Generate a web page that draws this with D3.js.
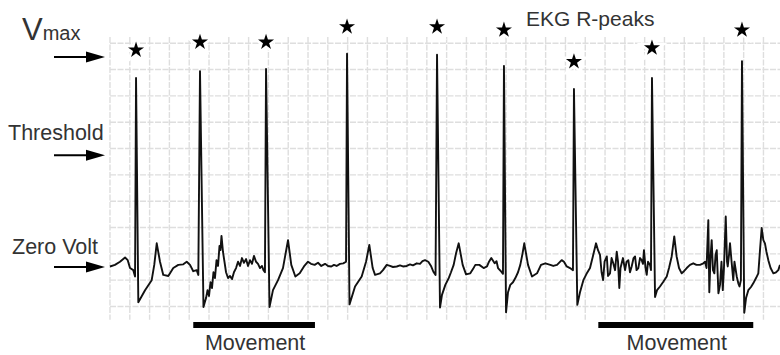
<!DOCTYPE html>
<html>
<head>
<meta charset="utf-8">
<script src="https://cdn.jsdelivr.net/npm/d3@7"></script>
<style>
  html, body { margin: 0; padding: 0; background: #fff; }
  svg { display: block; }
  text { font-family: "Liberation Sans", Arial, Helvetica, sans-serif; }
</style>
</head>
<body>
<svg id="chart" width="780" height="355"></svg>
<script>
// EKG recording: time in ms, voltage in mV (one grid box = 200 ms x 0.5 mV)
const traceTime = [
  0, 50, 101, 152, 179, 202, 235, 253, 263, 286, 354, 421, 447, 472, 505, 538, 589, 639, 690, 740,
  775, 808, 841, 876, 892, 909, 944, 970, 985, 1000, 1015, 1030, 1045, 1060, 1076, 1091, 1106, 1116, 1126, 1141,
  1156, 1172, 1192, 1212, 1232, 1252, 1273, 1293, 1313, 1333, 1353, 1374, 1394, 1414, 1434, 1454, 1475, 1495, 1515, 1535,
  1550, 1565, 1576, 1611, 1646, 1697, 1747, 1798, 1831, 1872, 1916, 1959, 2000, 2030, 2067, 2101, 2134, 2172, 2202, 2235,
  2262, 2289, 2323, 2356, 2384, 2394, 2419, 2475, 2542, 2586, 2619, 2653, 2677, 2727, 2757, 2795, 2828, 2858, 2896, 2929,
  2959, 2997, 3030, 3060, 3098, 3131, 3156, 3182, 3215, 3242, 3266, 3288, 3303, 3333, 3353, 3387, 3421, 3444, 3471, 3494,
  3522, 3562, 3596, 3639, 3666, 3690, 3730, 3774, 3808, 3828, 3851, 3885, 3904, 3919, 3952, 3969, 3979, 4000, 4020, 4043,
  4070, 4094, 4121, 4144, 4166, 4184, 4222, 4262, 4313, 4353, 4397, 4447, 4477, 4515, 4562, 4585, 4613, 4646, 4676, 4686,
  4720, 4747, 4781, 4813, 4848, 4878, 4909, 4929, 4949, 4965, 4980, 4995, 5018, 5030, 5050, 5066, 5083, 5101, 5118, 5131,
  5144, 5156, 5168, 5181, 5202, 5217, 5235, 5252, 5269, 5288, 5303, 5318, 5336, 5353, 5370, 5383, 5393, 5409, 5421, 5434,
  5454, 5464, 5474, 5505, 5525, 5555, 5585, 5623, 5646, 5673, 5699, 5723, 5747, 5774, 5797, 5825, 5858, 5891, 5923, 5959,
  5993, 6010, 6025, 6043, 6053, 6065, 6077, 6090, 6104, 6116, 6128, 6145, 6161, 6176, 6189, 6201, 6219, 6232, 6239, 6252,
  6262, 6278, 6295, 6307, 6330, 6346, 6358, 6372, 6383, 6406, 6424, 6447, 6474, 6497, 6525, 6548, 6565, 6582, 6599, 6615,
  6630, 6649, 6672, 6700, 6727, 6750, 6767
];
const traceVolt = [
  0.01, 0.04, 0.10, 0.18, 0.13, -0.02, -0.06, -0.18, 3.59, -0.67, -0.44, -0.25, 0.04, 0.45, 0.10, -0.15, -0.17, -0.02, 0.04, 0.05,
  0.10, 0.04, -0.08, -0.06, -0.15, 3.72, -0.76, -0.59, -0.44, -0.55, -0.29, -0.40, -0.10, -0.21, 0.13, 0.02, 0.40, 0.32, 0.59, 0.29,
  0.10, -0.10, -0.21, -0.17, -0.23, -0.10, -0.02, 0.10, 0.02, 0.17, 0.08, 0.15, 0.02, 0.13, 0.06, 0.21, 0.10, 0.06, -0.02, 0.02,
  -0.06, -0.10, 3.76, -0.76, -0.44, -0.25, -0.02, 0.51, 0.04, -0.18, -0.12, 0.01, 0.10, 0.06, 0.04, 0.08, 0.02, 0.06, 0.02, 0.01,
  0.04, 0.02, 0.06, 0.07, 0.10, 4.05, -0.71, -0.37, -0.18, 0.10, 0.42, -0.02, -0.15, -0.12, -0.06, 0.04, 0.02, 0.00, 0.01, 0.03,
  0.01, 0.02, 0.05, 0.03, 0.07, 0.06, 0.11, 0.13, 0.10, 0.02, -0.09, -0.15, 4.03, -0.77, -0.53, -0.34, -0.21, -0.10, 0.04, 0.25,
  0.45, 0.04, -0.14, -0.12, -0.04, 0.04, 0.04, -0.02, 0.01, 0.10, 0.17, 0.07, 0.11, -0.02, -0.09, -0.13, 3.82, -0.86, -0.48, -0.34,
  -0.29, -0.21, -0.10, 0.04, 0.25, 0.45, 0.04, -0.18, -0.12, 0.04, 0.07, 0.04, 0.02, 0.04, 0.13, 0.10, 0.01, -0.02, -0.06, 3.38,
  -0.72, -0.48, -0.25, -0.13, -0.02, 0.21, 0.45, 0.32, 0.23, -0.10, -0.25, 0.10, 0.20, -0.17, -0.12, 0.17, 0.07, -0.06, 0.29, 0.10,
  -0.40, -0.02, 0.07, 0.17, -0.06, 0.10, 0.13, -0.10, 0.01, 0.17, 0.20, -0.06, -0.02, 0.17, 0.13, 0.06, 0.32, -0.02, -0.15, 0.10,
  0.04, -0.06, 3.59, -0.57, -0.44, -0.37, -0.29, -0.18, -0.02, 0.20, 0.58, 0.20, -0.02, -0.12, -0.08, -0.02, 0.04, 0.07, 0.04, 0.04,
  0.07, 0.10, -0.02, 0.89, -0.48, 0.17, 0.51, -0.06, -0.12, 0.23, 0.32, -0.50, -0.34, 0.10, -0.44, -0.02, 0.96, 0.10, 0.01, 0.23,
  0.45, 0.10, -0.25, 0.10, -0.18, -0.31, -0.37, -0.25, 3.91, -0.87, -0.59, -0.44, -0.38, -0.31, -0.21, -0.12, 0.32, 0.74, 0.51, 0.45,
  0.29, 0.13, -0.02, -0.12, -0.10, -0.06, 0.04
];

// Detected R-peaks and the level of the star drawn above each one
const rPeakTime = [263, 909, 1576, 2394, 3303, 3979, 4686, 5474, 6383];
const markerLevel = [4.12, 4.27, 4.27, 4.56, 4.56, 4.50, 3.90, 4.16, 4.50];

// Reference voltage levels marked with arrows on the left
const levelNames = ["Vmax", "Threshold", "Zero Volt"];
const levelValues = [3.99, 2.12, 0];

// Periods with movement artefacts
const movementStart = [841, 4932];
const movementEnd = [2070, 6497];
const movementLabel = ["Movement", "Movement"];

const title = "EKG R-peaks";

// ---------------------------------------------------------------------------
const svg = d3.select("#chart");

const x = d3.scaleLinear().domain([0, 6767]).range([110, 780]);
const y = d3.scaleLinear().domain([0, 4.25]).range([267, 43.2]);

// ECG paper grid
const grid = svg.append("g")
  .attr("stroke", "#dedede")
  .attr("stroke-width", 1.4)
  .attr("stroke-dasharray", "6 1.5");

grid.selectAll("line.v")
  .data(d3.range(0, 6601, 200))
  .join("line")
  .attr("class", "v")
  .attr("x1", d => x(d)).attr("x2", d => x(d))
  .attr("y1", y(4.37)).attr("y2", y(-1.0));

grid.selectAll("line.h")
  .data(d3.range(-0.75, 4.26, 0.5))
  .join("line")
  .attr("class", "h")
  .attr("x1", x(0)).attr("x2", 780)
  .attr("y1", d => y(d)).attr("y2", d => y(d));

// EKG trace
const line = d3.line()
  .x(i => x(traceTime[i]))
  .y(i => y(traceVolt[i]));

svg.append("path")
  .attr("d", line(d3.range(traceTime.length)))
  .attr("fill", "none")
  .attr("stroke", "#111")
  .attr("stroke-width", 1.9)
  .attr("stroke-linejoin", "round");

// Stars above the R-peaks
const star = d3.symbol(d3.symbolStar, 80);
svg.selectAll("path.star")
  .data(rPeakTime)
  .join("path")
  .attr("class", "star")
  .attr("d", star)
  .attr("transform", (d, i) => `translate(${x(d)},${y(markerLevel[i])})`)
  .attr("fill", "#000")
  .attr("stroke", "#fff")
  .attr("stroke-width", 5)
  .attr("paint-order", "stroke");

// Level arrows with their labels
const arrowStart = 54, arrowEnd = 105;
const levels = svg.append("g");
levelValues.forEach((v, i) => {
  const yy = y(v);
  levels.append("line")
    .attr("x1", arrowStart).attr("x2", arrowEnd - 14)
    .attr("y1", yy).attr("y2", yy)
    .attr("stroke", "#000").attr("stroke-width", 2);
  levels.append("path")
    .attr("d", `M${arrowEnd - 19},${yy - 5.5}L${arrowEnd},${yy}L${arrowEnd - 19},${yy + 5.5}Z`)
    .attr("fill", "#000");
});

const labelStyle = { fill: "#333", size: 21.5 };
// Vmax: large V with a smaller "max"
const vLabel = svg.append("text")
  .attr("x", 22).attr("y", y(levelValues[0]) - 17)
  .attr("fill", labelStyle.fill);
vLabel.append("tspan").attr("font-size", 31).text(levelNames[0].charAt(0));
vLabel.append("tspan").attr("font-size", 20).text(levelNames[0].slice(1));

svg.append("text")
  .attr("x", 8).attr("y", y(levelValues[1]) - 15.5)
  .attr("font-size", labelStyle.size).attr("fill", labelStyle.fill)
  .text(levelNames[1]);

svg.append("text")
  .attr("x", 12).attr("y", y(levelValues[2]) - 13)
  .attr("font-size", labelStyle.size).attr("fill", labelStyle.fill)
  .text(levelNames[2]);

// Title
svg.append("text")
  .attr("x", 526).attr("y", 26)
  .attr("font-size", 21).attr("fill", labelStyle.fill)
  .text(title);

// Movement bars
movementStart.forEach((s, i) => {
  svg.append("rect")
    .attr("x", x(s)).attr("width", x(movementEnd[i]) - x(s))
    .attr("y", 322).attr("height", 6)
    .attr("fill", "#000");
  svg.append("text")
    .attr("x", (x(s) + x(movementEnd[i])) / 2 + 1)
    .attr("y", 350)
    .attr("text-anchor", "middle")
    .attr("font-size", labelStyle.size).attr("fill", labelStyle.fill)
    .text(movementLabel[i]);
});
</script>
</body>
</html>
